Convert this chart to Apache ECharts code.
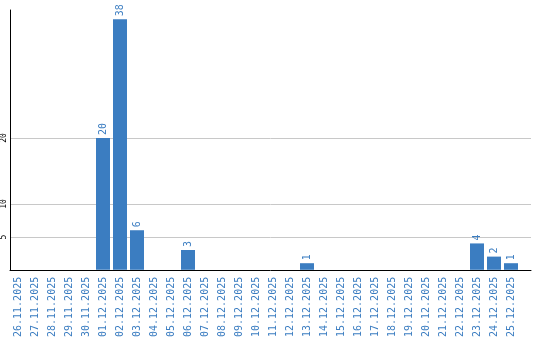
<!DOCTYPE html>
<html><head><meta charset="utf-8">
<script src="https://cdn.jsdelivr.net/npm/echarts@6/dist/echarts.min.js"></script>
<style>html,body{margin:0;padding:0;background:#fff}#c{width:540px;height:340px}</style>
</head><body><div id="c"></div>
<script>
const categories = ['26.11.2025','27.11.2025','28.11.2025','29.11.2025','30.11.2025','01.12.2025','02.12.2025','03.12.2025','04.12.2025','05.12.2025','06.12.2025','07.12.2025','08.12.2025','09.12.2025','10.12.2025','11.12.2025','12.12.2025','13.12.2025','14.12.2025','15.12.2025','16.12.2025','17.12.2025','18.12.2025','19.12.2025','20.12.2025','21.12.2025','22.12.2025','23.12.2025','24.12.2025','25.12.2025'];
const values = [0,0,0,0,0,20,38,6,0,0,3,0,0,0,0,0,0,1,0,0,0,0,0,0,0,0,0,4,2,1];
const yTicks = [5,10,20];
const yMax = 39.4;

const blue = '#3b7dc1';
const mono = '"DejaVu Sans Mono", monospace';
const chart = echarts.init(document.getElementById('c'), null, {renderer:'canvas'});
chart.setOption({
  animation: false,
  backgroundColor: '#fff',
  grid: [
    {left: 9.5, top: 10, width: 510, height: 260},
    {left: 10, top: 10, width: 521, height: 260}
  ],
  xAxis: [
    {gridIndex: 0, type: 'category', data: categories,
     axisLine: {show: false}, axisTick: {show: false},
     axisLabel: {interval: 0, rotate: 90, color: blue, fontFamily: mono, fontSize: 10, margin: 7}},
    {gridIndex: 1, type: 'value', min: 0, max: 1,
     axisLine: {show: true, lineStyle: {color: '#000', width: 1}},
     axisTick: {show: false}, axisLabel: {show: false}, splitLine: {show: false}}
  ],
  yAxis: [
    {gridIndex: 0, type: 'value', min: 0, max: yMax, show: false, splitLine: {show: false}},
    {gridIndex: 1, type: 'value', min: 0, max: yMax,
     axisLine: {show: true, lineStyle: {color: '#000', width: 1}},
     axisTick: {show: false, customValues: yTicks},
     axisLabel: {customValues: yTicks, rotate: 90, align: 'center', verticalAlign: 'bottom',
       color: '#000', fontFamily: mono, fontSize: 8, margin: 2},
     splitLine: {show: true, lineStyle: {color: '#c8c8c8', width: 1}}}
  ],
  series: [
    {type: 'bar', xAxisIndex: 0, yAxisIndex: 0, data: values, barWidth: 14,
     itemStyle: {color: blue},
     label: {show: true, position: 'top', rotate: 90, align: 'left', verticalAlign: 'middle', distance: 3,
       color: blue, fontFamily: mono, fontSize: 10,
       formatter: p => p.value > 0 ? String(p.value) : ''}}
  ]
});
</script></body></html>
